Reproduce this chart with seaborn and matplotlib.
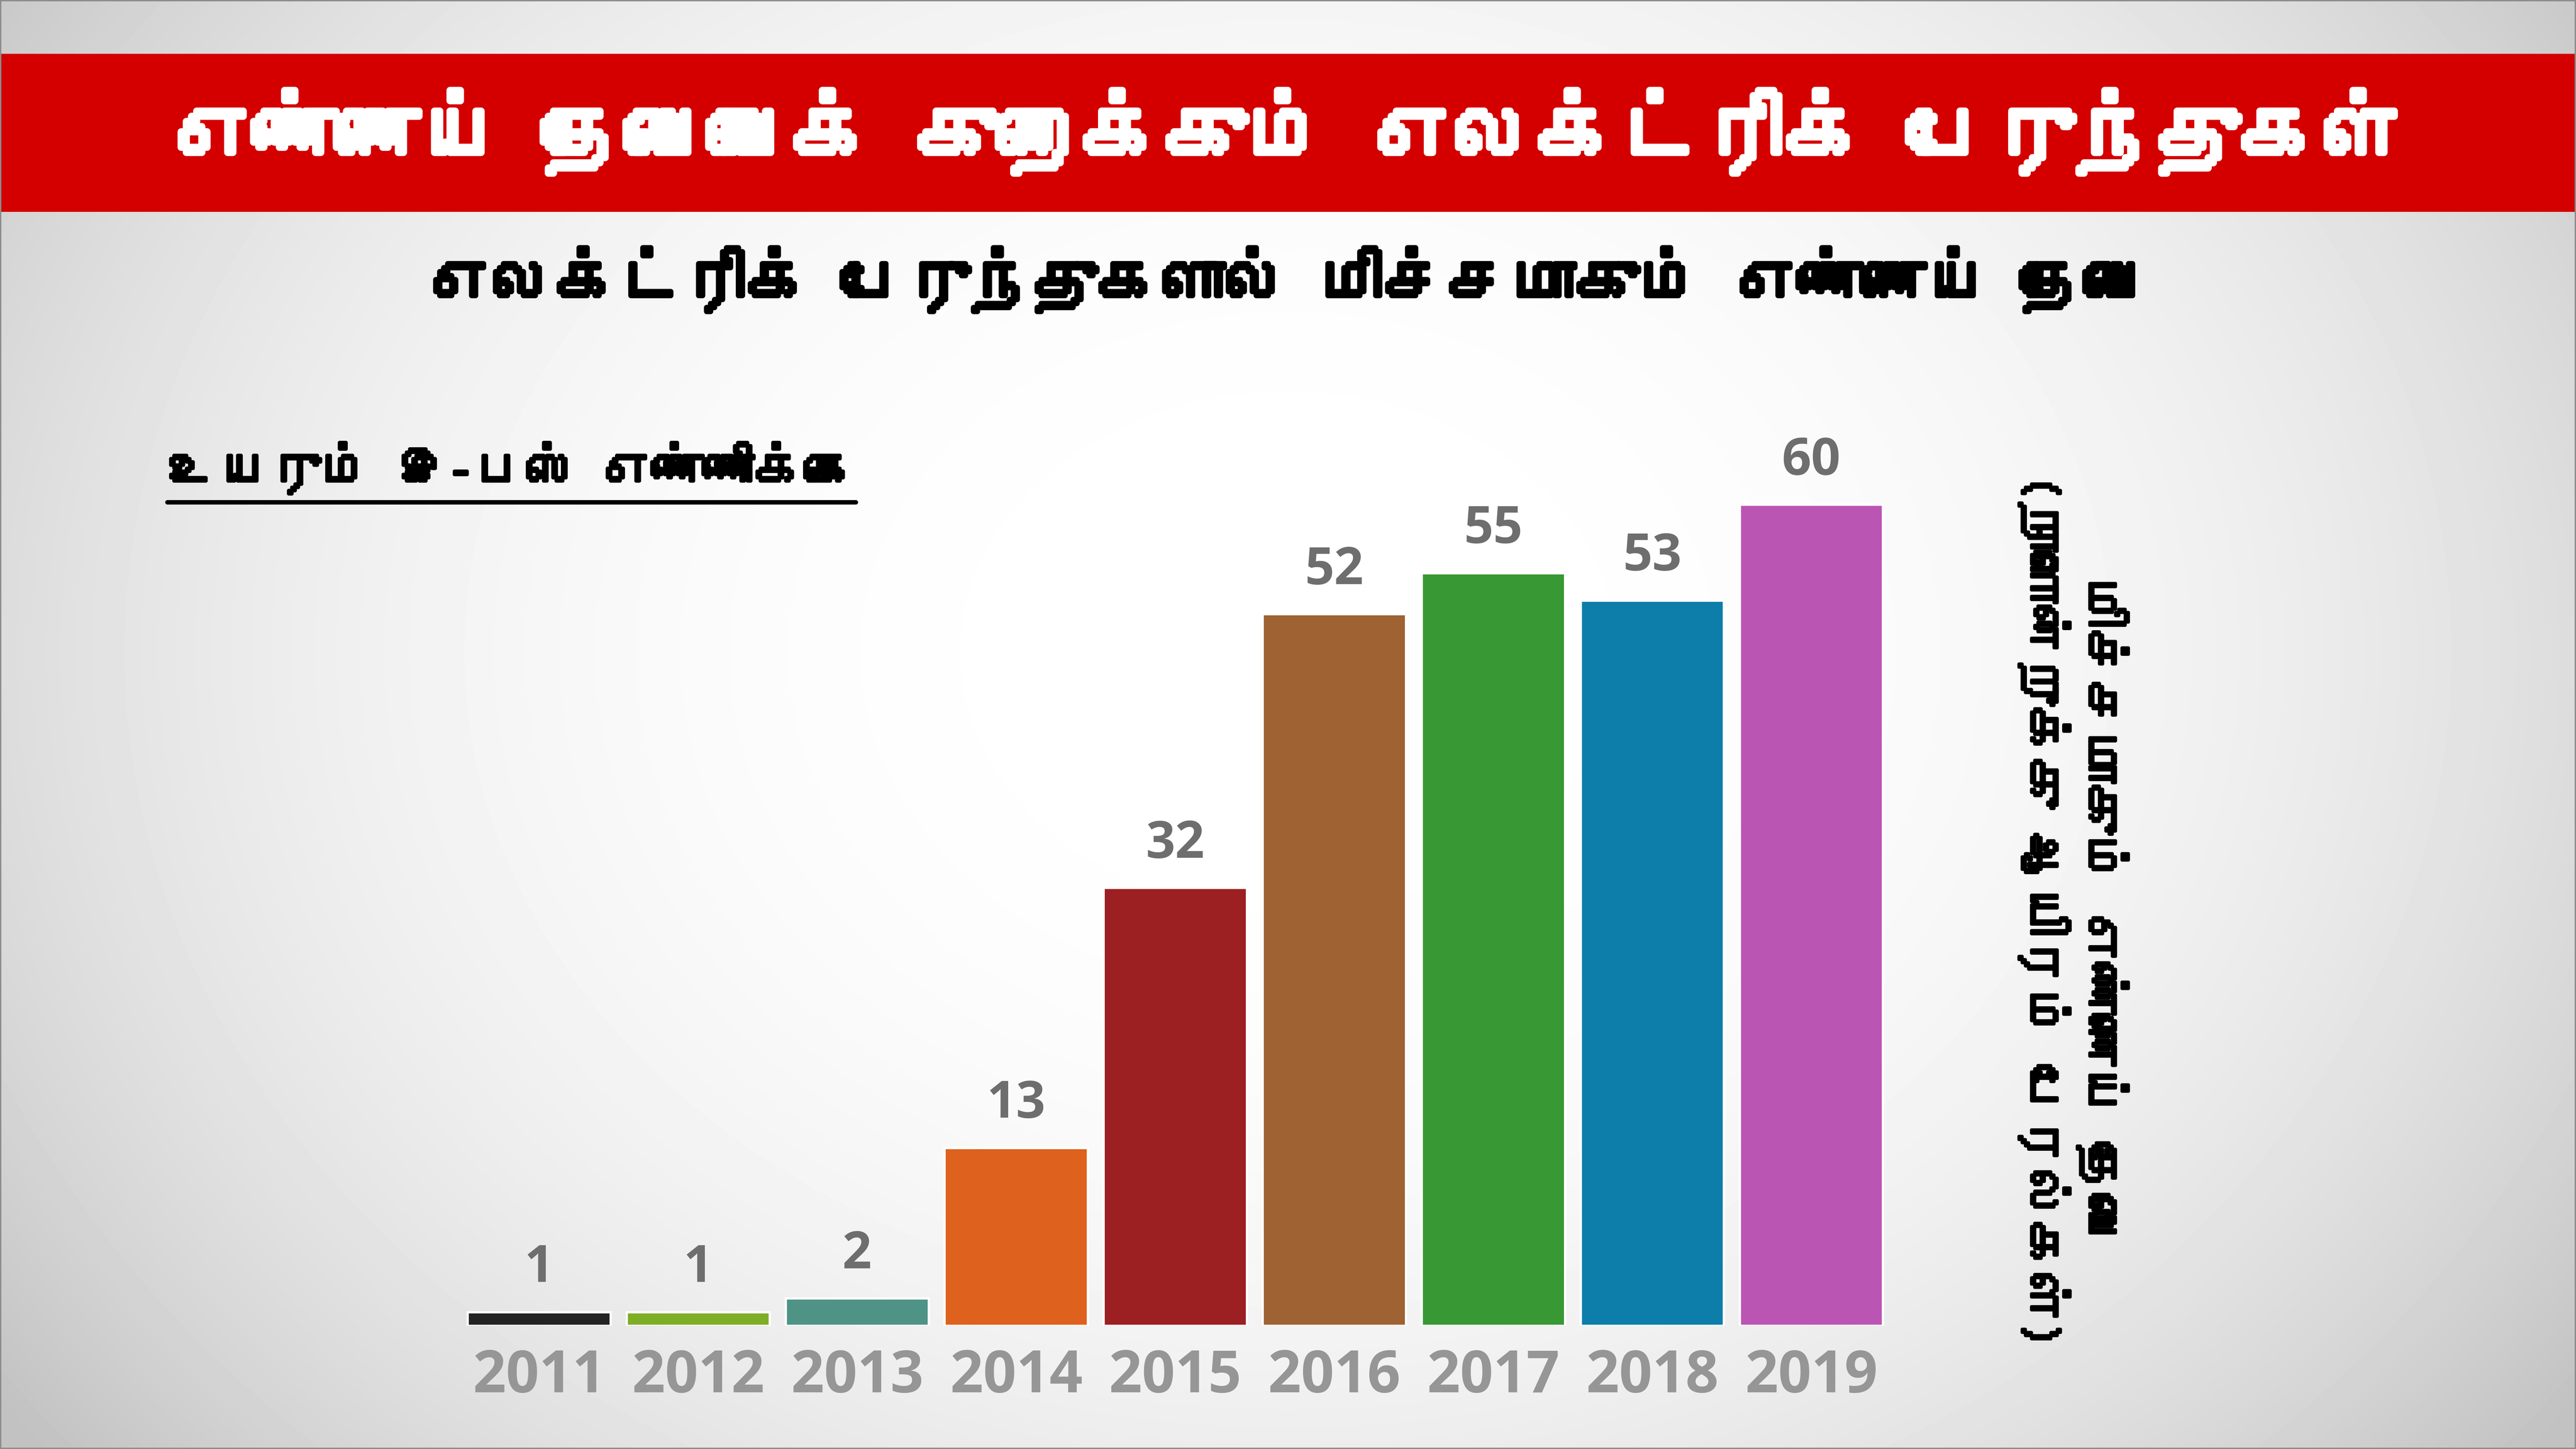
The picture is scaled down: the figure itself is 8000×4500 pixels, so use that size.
import numpy as np
import pandas as pd
import matplotlib
matplotlib.use('Agg')
import matplotlib.pyplot as plt
import matplotlib.patheffects as pe
from matplotlib import font_manager, ft2font
from matplotlib.patches import Rectangle
from matplotlib.lines import Line2D
import seaborn as sns

# Chart data
years = ['2011', '2012', '2013', '2014', '2015', '2016', '2017', '2018', '2019']
values = [1, 1, 2, 13, 32, 52, 55, 53, 60]
bar_colors = ['#232323', '#7eae26', '#4f9387', '#de611d', '#9c1f22',
              '#9e6233', '#389833', '#0c7ea9', '#bb55b4']

title = 'எண்ணெய் தேவையைக் குறைக்கும் எலக்ட்ரிக் பேருந்துகள்'
subtitle = 'எலக்ட்ரிக் பேருந்துகளால் மிச்சமாகும் எண்ணெய் தேவை'
bus_label = 'உயரும் இ-பஸ் எண்ணிக்கை'
side_label = 'மிச்சமாகும் எண்ணெய் தேவை\n(நாளொன்றுக்கு ஆயிரம் பேரல்கள்)'

df = pd.DataFrame({'year': years, 'value': values})

sns.set_theme(style='white')


# Look for any installed font that has Tamil glyphs
def find_tamil_font():
    for f in font_manager.fontManager.ttflist:
        try:
            if 0x0BA4 in ft2font.FT2Font(f.fname).get_charmap():
                return f.name
        except Exception:
            continue
    return None


tamil = find_tamil_font()
tamil_family = [tamil, 'DejaVu Sans'] if tamil else ['DejaVu Sans']
plt.rcParams['font.family'] = ['Open Sans', 'DejaVu Sans']


# the Tamil font has no heavy weight, so thicken it with a stroke
def heavy(color, w):
    return [pe.withStroke(linewidth=w, foreground=color)]


fig = plt.figure(figsize=(16, 9), dpi=500)

# Background: soft radial grey gradient plus the red title band
bg = fig.add_axes([0, 0, 1, 1], zorder=-10)
gx, gy = np.meshgrid(np.linspace(0, 1, 800), np.linspace(0, 1, 450))
r2 = ((gx - 0.5) / 0.6) ** 2 + ((gy - 0.55) / 0.85) ** 2
shade = np.clip(1.0 - 0.22 * r2 ** 1.3, 0.76, 1.0)
bg.imshow(shade, extent=[0, 1, 0, 1], aspect='auto', cmap='gray', vmin=0, vmax=1,
          origin='lower', interpolation='bilinear')
bg.add_patch(Rectangle((0, 0.8538), 1, 0.1091, color='#d40000', lw=0))
bg.add_patch(Rectangle((0, 0), 1, 1, fill=False, edgecolor='#8c8c8c', lw=1.2))
bg.set_xlim(0, 1)
bg.set_ylim(0, 1)
bg.axis('off')

# Bars
ax = fig.add_axes([0.1784, 0.0851, 0.5556, 0.661])
ax.patch.set_alpha(0)
sns.barplot(data=df, x='year', y='value', hue='year', palette=bar_colors,
            order=years, hue_order=years, width=0.9, saturation=1,
            legend=False, ax=ax)
for cont in ax.containers:
    ax.bar_label(cont, padding=8, fontsize=23, fontweight='bold', color='#6e6e6e')

ax.set_xlim(-0.5, len(years) - 0.5)
ax.set_ylim(0, 70)
ax.set_xlabel('')
ax.set_ylabel('')
ax.set_yticks([])
ax.tick_params(axis='x', length=0, pad=10, labelsize=26, labelcolor='#969696')
for t in ax.get_xticklabels():
    t.set_fontweight('bold')
sns.despine(ax=ax, left=True, bottom=True)

# Texts
fig.text(0.5, 0.909, title, ha='center', va='center', color='white',
         fontsize=37, fontweight='bold', family=tamil_family,
         path_effects=heavy('white', 3.2))
fig.text(0.5, 0.807, subtitle, ha='center', va='center', color='black',
         fontsize=28.5, fontweight='bold', family=tamil_family,
         path_effects=heavy('black', 2.4))
lab = fig.text(0.065, 0.677, bus_label, ha='left', va='center', color='black',
               fontsize=22.8, fontweight='bold', family=tamil_family,
               path_effects=heavy('black', 1.6))
fig.text(0.805, 0.371, side_label, ha='center', va='center', color='black',
         fontsize=23, fontweight='bold', style='italic', rotation=270,
         linespacing=1.15, multialignment='center', family=tamil_family,
         path_effects=heavy('black', 1.4))

# Underline below the bus count label
fig.canvas.draw()
bb = lab.get_window_extent().transformed(fig.transFigure.inverted())
fig.add_artist(Line2D([bb.x0, bb.x1], [bb.y0 - 0.006, bb.y0 - 0.006],
                      transform=fig.transFigure, color='black', lw=2))

fig.savefig('out.png', dpi=500)
